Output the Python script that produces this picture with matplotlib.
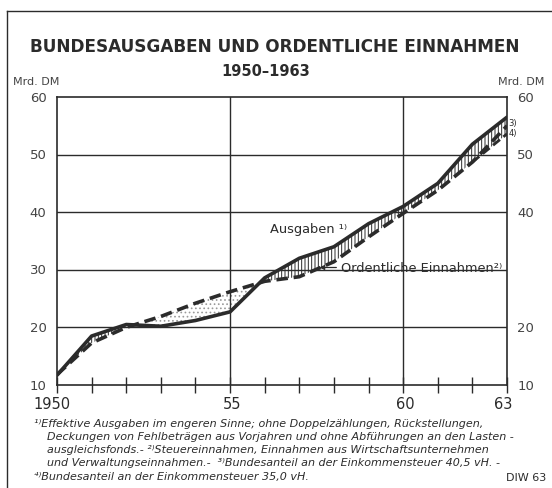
import matplotlib
matplotlib.use("Agg")
import matplotlib.pyplot as plt
import numpy as np

years = list(range(1950, 1964))
ausgaben = [11.7, 18.5, 20.5, 20.2, 21.2, 22.7, 28.6, 32.0, 34.0, 38.0, 41.0, 45.0, 51.8, 56.5]
einnahmen = [11.8, 17.3, 20.0, 21.9, 24.2, 26.2, 28.0, 28.8, 31.4, 35.7, 39.8, 43.8, 48.7, 55.0]
einnahmen_alt_years = [1962, 1963]
einnahmen_alt = [48.7, 53.6]
yticks_left = [10, 20, 30, 40, 50, 60]
yticks_right = [10, 20, 40, 50, 60]
xtick_vals = [1950, 1955, 1960, 1963]
xtick_labels = ["1950", "55", "60", "63"]
xtick_offsets = [-0.15, 0.05, 0.05, -0.1]

title = "BUNDESAUSGABEN UND ORDENTLICHE EINNAHMEN"
subtitle = "1950\u20131963"
footnotes = [
    "\u00b9\u207eEffektive Ausgaben im engeren Sinne; ohne Doppelzählungen, Rückstellungen,",
    "Deckungen von Fehlbeträgen aus Vorjahren und ohne Abführungen an den Lasten -",
    "ausgleichsfonds.- \u00b2\u207eSteuereinnahmen, Einnahmen aus Wirtschaftsunternehmen",
    "und Verwaltungseinnahmen.-  \u00b3\u207eBundesanteil an der Einkommensteuer 40,5 vH. -",
    "\u2074\u207eBundesanteil an der Einkommensteuer 35,0 vH.",
]

ink = "#2b2b2b"
plt.rcParams["hatch.linewidth"] = 0.7
plt.rcParams["font.family"] = ["DejaVu Sans"]

W, H = 552, 489
fig = plt.figure(figsize=(W / 100, H / 100), dpi=100)
fig.patch.set_facecolor("white")

L, R, B, T = 57, 507, 386, 98
ax = fig.add_axes([L / W, 1 - B / H, (R - L) / W, (B - T) / H])
ax.set_xlim(1950, 1963)
ax.set_ylim(10, 60)
py = (B - T) / 50.0

x = np.array(years, dtype=float)
a = np.array(ausgaben)
e = np.array(einnahmen)
e_low = e.copy()
e_low[-1] = einnahmen_alt[-1]

ax.fill_between(x, a, e_low, where=a >= e_low, interpolate=True,
                facecolor="none", edgecolor=ink, hatch="|||||", linewidth=0)
ax.fill_between(x, a, e_low, where=a < e_low, interpolate=True,
                facecolor="none", edgecolor="#9a9a9a", hatch="....", linewidth=0)

for yv in [20, 30, 40, 50]:
    ax.axhline(yv, color=ink, lw=1.0, zorder=1)
for xv in [1955, 1960]:
    ax.axvline(xv, color=ink, lw=1.0, zorder=1)

ax.plot(x, a, color=ink, lw=2.6, solid_capstyle="round", zorder=4)
ax.plot(x, e, color=ink, lw=2.6, dashes=(3.2, 1.6), zorder=4)
ax.plot(einnahmen_alt_years, einnahmen_alt, color=ink, lw=2.0, dashes=(3.2, 1.6), zorder=4)

for s in ax.spines.values():
    s.set_color(ink)
    s.set_linewidth(1.2)

ax.set_xticks(years)
ax.set_xticklabels([])
ax.tick_params(axis="x", direction="inout", length=12, width=1.0, color=ink)
ax.set_yticks([])

ylab_x = 10 - (404.5 - B) / py
for v, lab, off in zip(xtick_vals, xtick_labels, xtick_offsets):
    ax.text(v + off, ylab_x, lab, ha="center", va="center", fontsize=10.5, color=ink,
            clip_on=False)
for v in yticks_left:
    ax.text(1950 - 0.3, v, str(v), ha="right", va="center", fontsize=9.5, color="#444444",
            clip_on=False)
for v in yticks_right:
    ax.text(1963 + 0.3, v, str(v), ha="left", va="center", fontsize=9.5, color="#444444",
            clip_on=False)

ax.text(1956.16, 37.2, "Ausgaben \u00b9\u207e", ha="left", va="center", fontsize=9.4, color=ink)
ax.text(1958.2, 30.4, "Ordentliche Einnahmen\u00b2\u207e", ha="left", va="center", fontsize=9.3,
        color=ink, clip_on=False)
ax.annotate("", xy=(1957.5, 30.4), xytext=(1958.15, 30.4),
            arrowprops=dict(arrowstyle="-|>", color=ink, lw=0.9, mutation_scale=7))
ax.text(1963.05, 55.6, "3)", ha="left", va="center", fontsize=6, color=ink, clip_on=False)
ax.text(1963.05, 53.8, "4)", ha="left", va="center", fontsize=6, color=ink, clip_on=False)

fig.add_artist(plt.Line2D([7 / W, 1], [1 - 12 / H, 1 - 12 / H], color=ink, lw=1.0))
fig.add_artist(plt.Line2D([7 / W, 7 / W], [0, 1 - 12 / H], color=ink, lw=1.0))

fig.text(275 / W, 1 - 47 / H, title, ha="center", va="center", fontsize=12.2,
         fontweight="bold", color=ink)
fig.text(266 / W, 1 - 71 / H, subtitle, ha="center", va="center", fontsize=10.5,
         fontweight="bold", color=ink)
fig.text(36 / W, 1 - 82 / H, "Mrd. DM", ha="center", va="center", fontsize=8, color="#444444")
fig.text(521 / W, 1 - 82 / H, "Mrd. DM", ha="center", va="center", fontsize=8, color="#444444")

ys = [424, 437, 450, 463, 477]
xs = [34, 47, 47, 47, 34]
for t, xx, yy in zip(footnotes, xs, ys):
    fig.text(xx / W, 1 - yy / H, t, ha="left", va="center", fontsize=8.0,
             style="italic", color=ink)
fig.text(546 / W, 1 - 478 / H, "DIW 63", ha="right", va="center", fontsize=8, color=ink)

fig.savefig("out.png", dpi=100, facecolor="white")
